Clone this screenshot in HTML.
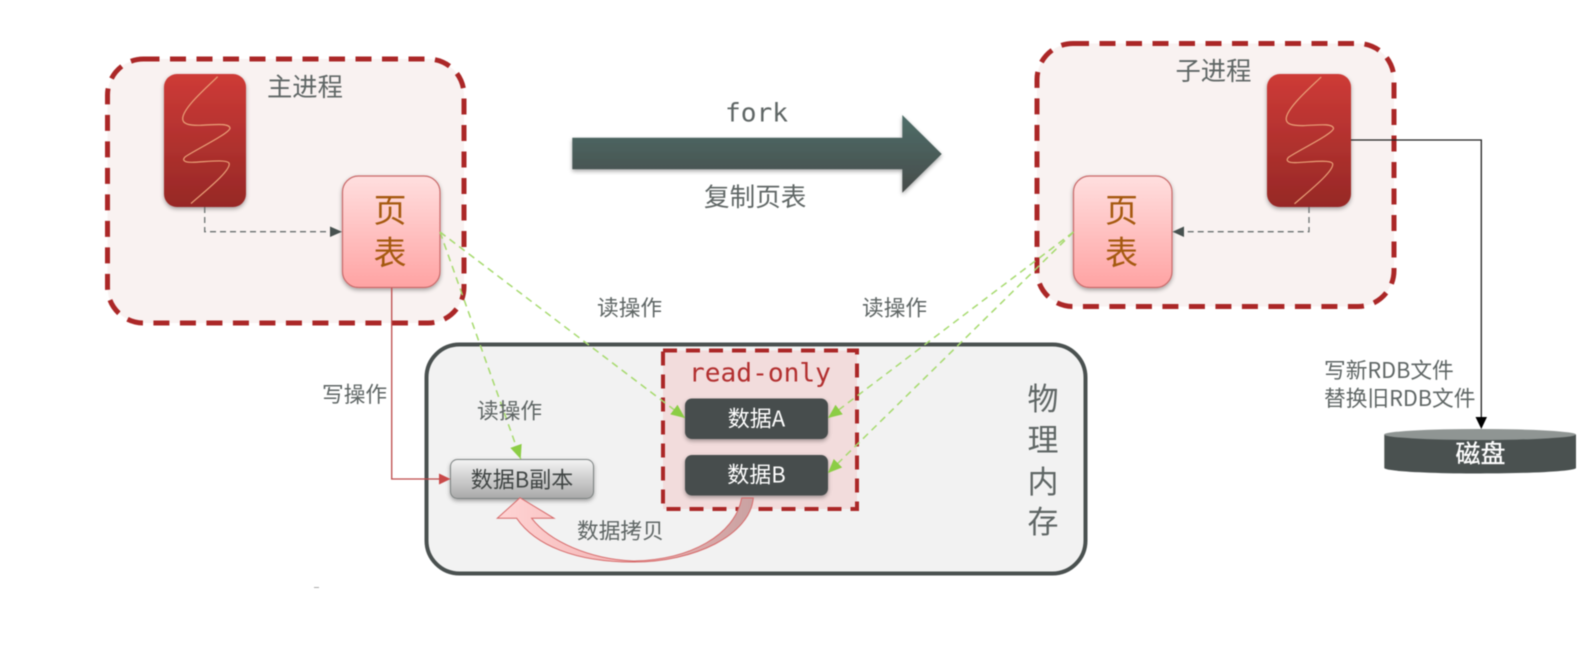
<!DOCTYPE html>
<html><head><meta charset="utf-8">
<style>
html,body{margin:0;padding:0;background:#fff;width:1593px;height:659px;overflow:hidden}
svg{display:block;filter:blur(.4px)}
text{font-family:"Noto Sans CJK SC","Liberation Sans",sans-serif;fill:#5f6665}
.m{font-family:"DejaVu Sans Mono","Liberation Mono",monospace}
</style></head><body>
<svg width="1593" height="659" viewBox="0 0 1593 659" xmlns="http://www.w3.org/2000/svg">
<defs>
<linearGradient id="red" x1="0" y1="0" x2="0" y2="1"><stop offset="0" stop-color="#ce3b37"/><stop offset="1" stop-color="#962826"/></linearGradient>
<linearGradient id="pink" x1="0" y1="0" x2="0" y2="1"><stop offset="0" stop-color="#ffdfdf"/><stop offset="1" stop-color="#ffa3a3"/></linearGradient>
<linearGradient id="gray" x1="0" y1="0" x2="0" y2="1"><stop offset="0" stop-color="#f3f3f3"/><stop offset="1" stop-color="#a9a9a9"/></linearGradient>
<linearGradient id="big" x1="0" y1="0" x2="0" y2="1"><stop offset="0" stop-color="#4f6e69"/><stop offset="1" stop-color="#464b4a"/></linearGradient>
<linearGradient id="cur" x1="0" y1="0" x2="1" y2="0"><stop offset="0" stop-color="#ffd4d4"/><stop offset=".5" stop-color="#f3b5b5"/><stop offset="1" stop-color="#c9a2a2"/></linearGradient>
<filter id="sh" x="-20%" y="-20%" width="140%" height="140%"><feDropShadow dx="0" dy="2" stdDeviation="2" flood-color="#000" flood-opacity=".35"/></filter>
<marker id="gh" markerWidth="16" markerHeight="14" refX="14" refY="6" orient="auto" markerUnits="userSpaceOnUse"><path d="M0 0L14 6L0 12Z" fill="#8ccd45"/></marker>
<path id="sq" d="M217.7 76.7C206 88 183 108 182.7 118.5C182.5 124 189 125.5 200 125.3C212 125 229 122.5 230 128C230.5 133 195 150 185 157C182 160 184 162.5 192 162.3C205 162 226 159 229 163C232 170 204 192 191 203.5" fill="none" stroke="#eaa178" stroke-width="1.2"/>
</defs>

<!-- process containers -->
<rect x="107.5" y="59" width="356.5" height="264" rx="36" fill="#f9f2f1" stroke="#ab2727" stroke-width="5" stroke-dasharray="16 10.5"/>
<rect x="1037" y="43.5" width="357" height="263" rx="36" fill="#f9f2f1" stroke="#ab2727" stroke-width="5" stroke-dasharray="16 10.5"/>
<text x="267" y="96" font-size="25.3">主进程</text>
<text x="1175.5" y="80" font-size="25.3">子进程</text>

<!-- physical memory -->
<rect x="426.5" y="344.5" width="659" height="229" rx="33" fill="#f2f2f2" stroke="#4a5150" stroke-width="4"/>
<g font-size="31" text-anchor="middle">
<text x="1043" y="410">物</text><text x="1043" y="451">理</text><text x="1043" y="493">内</text><text x="1043" y="533">存</text>
</g>

<!-- read-only -->
<rect x="663" y="350.5" width="194" height="158.5" fill="#f2dcdc" stroke="#ab2727" stroke-width="4" stroke-dasharray="14 9"/>
<text class="m" x="689" y="381.5" font-size="26.2" style="fill:#b22f2f">read-only</text>
<rect x="685" y="398.5" width="143" height="40.5" rx="7" fill="#474e4d" filter="url(#sh)"/>
<rect x="685" y="455" width="143" height="40.5" rx="7" fill="#474e4d" filter="url(#sh)"/>
<text x="756.5" y="426.5" font-size="22" text-anchor="middle" style="fill:#fff">数据A</text>
<text x="756.5" y="482.5" font-size="22" text-anchor="middle" style="fill:#fff">数据B</text>

<!-- data B copy -->
<rect x="450.5" y="459.5" width="143" height="39" rx="7" fill="url(#gray)" stroke="#7d8382" stroke-width="1" filter="url(#sh)"/>
<text x="522" y="487.5" font-size="22" text-anchor="middle" style="fill:#3f4443">数据B副本</text>

<!-- curved arrow -->
<path d="M741.7 498L753.3 498C750 535 695 562 633 562C575 562 535 545 516.7 518.3L497.3 518.3L520 497.7L554 518.3L531.7 518.3C550 542 590 559 633 561C690 560 735 535 741.7 498Z" fill="url(#cur)" stroke="#d66a6a" stroke-width="1"/>

<!-- red process blocks -->
<rect x="164" y="74" width="82" height="133" rx="13" fill="url(#red)" filter="url(#sh)"/>
<use href="#sq"/>
<rect x="1267" y="74" width="84" height="133" rx="13" fill="url(#red)" filter="url(#sh)"/>
<use href="#sq" transform="translate(1103.5 0.3)"/>

<!-- page tables -->
<rect x="342.5" y="176" width="97.5" height="111.5" rx="16" fill="url(#pink)" stroke="#c96a6a" stroke-width="1.2" filter="url(#sh)"/>
<rect x="1073.5" y="176" width="98.5" height="111.5" rx="16" fill="url(#pink)" stroke="#c96a6a" stroke-width="1.2" filter="url(#sh)"/>
<g font-size="33" text-anchor="middle">
<text x="390" y="222" style="fill:#a5590f">页</text><text x="390" y="264.5" style="fill:#a5590f">表</text>
<text x="1121.5" y="222" style="fill:#a5590f">页</text><text x="1121.5" y="264.5" style="fill:#a5590f">表</text>
</g>

<!-- dashed gray connectors -->
<path d="M204.7 207V231.7H331" fill="none" stroke="#6a7170" stroke-width="1.3" stroke-dasharray="6 4"/>
<path d="M330 226.5L342 231.7L330 237Z" fill="#47514f"/>
<path d="M1309 207V231.7H1184" fill="none" stroke="#6a7170" stroke-width="1.3" stroke-dasharray="6 4"/>
<path d="M1184 226.5L1172.5 231.7L1184 237Z" fill="#47514f"/>

<!-- green read connectors -->
<g fill="none" stroke="#a6da6e" stroke-width="1.5" stroke-dasharray="7 5">
<path d="M440 232L685 418" marker-end="url(#gh)"/>
<path d="M440 232L520.7 459" marker-end="url(#gh)"/>
<path d="M1073.5 232L828 418" marker-end="url(#gh)"/>
<path d="M1073.5 232L828 473" marker-end="url(#gh)"/>
</g>

<!-- red write connector -->
<path d="M391.7 288V479H440" fill="none" stroke="#bd4a4a" stroke-width="1.3"/>
<path d="M439 473.5L450.5 479L439 484.5Z" fill="#c94a4a"/>

<!-- fork arrow -->
<path d="M572.3 137.7H902.3V115L941.7 154L902.3 192.7V169.3H572.3Z" fill="url(#big)" filter="url(#sh)"/>
<text class="m" x="725" y="121.5" font-size="26.2">fork</text>
<text x="704" y="206" font-size="25.6">复制页表</text>

<!-- labels -->
<g font-size="21.7">
<text x="597" y="315.5">读操作</text>
<text x="862" y="315.5">读操作</text>
<text x="322" y="402">写操作</text>
<text x="477" y="418.5">读操作</text>
<text x="577" y="538.5">数据拷贝</text>
<text x="1324" y="378">写新RDB文件</text>
<text x="1324" y="406">替换旧RDB文件</text>
</g>

<!-- disk -->
<path d="M1384.3 434.5V468C1384.3 471 1427 473.5 1480 473.5C1533 473.5 1576 471 1576 468V434.5Z" fill="#4a5150"/>
<ellipse cx="1480" cy="434.5" rx="95.8" ry="5.5" fill="#8f9593"/>
<text x="1480.5" y="462.5" font-size="25" text-anchor="middle" style="fill:#fff;stroke:#fff;stroke-width:.3">磁盘</text>

<!-- black connector -->
<path d="M1351 140H1481.3V418" fill="none" stroke="#222" stroke-width="1.3"/>
<path d="M1475.5 417H1487L1481.3 429Z" fill="#000"/>

<rect x="314" y="587" width="5" height="1" fill="#aaa"/>
</svg>
</body></html>
